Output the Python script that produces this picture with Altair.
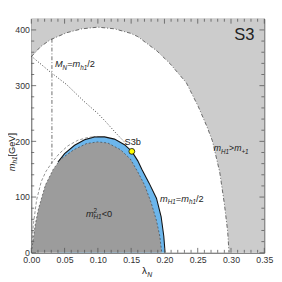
import altair as alt
import pandas as pd

FONT = "Liberation Sans"
TXT = "#222222"

# boundary of the light-gray excluded region (m_H1 > m_+1)
outer_lam = [0.0, 0.014, 0.028, 0.053, 0.076, 0.10, 0.125, 0.149, 0.16, 0.189, 0.208, 0.233, 0.251, 0.264, 0.272, 0.283, 0.29, 0.295, 0.297]
outer_m = [352, 370, 382, 395, 402, 405, 402, 394, 388, 362, 340, 305, 262, 226, 201, 145, 88, 38, 0]

# boundary of m^2_H1 < 0 region (dark gray)
neg_lam = [0.0, 0.006, 0.011, 0.021, 0.033, 0.044, 0.064, 0.083, 0.10, 0.115, 0.134, 0.149, 0.16, 0.17, 0.18, 0.188, 0.193, 0.196]
neg_m = [0, 51, 80, 121, 150, 168, 185, 196, 199, 197, 185, 168, 145, 122, 90, 58, 30, 0]

# outer edge of the blue band (m_H1 = m_h1/2)
band_lam = [0.04, 0.05, 0.065, 0.08, 0.095, 0.11, 0.125, 0.14, 0.151, 0.16, 0.166, 0.177, 0.188, 0.195, 0.199, 0.201]
band_m = [163, 178, 193, 203, 208, 208, 204, 194, 182, 165, 150, 125, 98, 65, 30, 0]

# dashed curve
dash_lam = [0.0, 0.003, 0.008, 0.015, 0.022, 0.031, 0.042, 0.055, 0.07, 0.085, 0.10]
dash_m = [0, 50, 95, 128, 146, 162, 178, 192, 202, 207, 209]

# dotted curve
dot_lam = [0.0, 0.028, 0.053, 0.079, 0.10, 0.112, 0.127, 0.143]
dot_m = [353, 325, 302, 272, 250, 235, 215, 195]

# vertical M_N = m_h1/2 line
vert_lam = [0.031, 0.031]
vert_m = [384, 160]

# benchmark point S3b
pt_lam = [0.151]
pt_m = [182]

x_major = [0.0, 0.05, 0.10, 0.15, 0.20, 0.25, 0.30, 0.35]
x_minor = [0.01, 0.02, 0.03, 0.04, 0.06, 0.07, 0.08, 0.09, 0.11, 0.12, 0.13, 0.14,
           0.16, 0.17, 0.18, 0.19, 0.21, 0.22, 0.23, 0.24, 0.26, 0.27, 0.28, 0.29,
           0.31, 0.32, 0.33, 0.34]
y_major = [0, 100, 200, 300, 400]
y_minor = [20, 40, 60, 80, 120, 140, 160, 180, 220, 240, 260, 280, 320, 340, 360, 380]
Y_TOP = 420

W_PX, H_PX = 240, 241

xs = alt.Scale(domain=[0, 0.35], nice=False, zero=False)
ys = alt.Scale(domain=[0, Y_TOP], nice=False, zero=False)
xaxis = alt.Axis(values=x_major, format=".2f", ticks=False, domain=False, grid=False,
                 labelFontSize=9, labelFont=FONT, labelColor="#333333", labelPadding=3,
                 labelFlush=False, labelOverlap=False)
yaxis = alt.Axis(values=y_major, format="d", ticks=False, domain=False, grid=False,
                 labelFontSize=9, labelFont=FONT, labelColor="#333333", labelPadding=2,
                 labelFlush=False, labelOverlap=False)
X = alt.X("lam:Q", scale=xs, axis=xaxis, title=None)
Y = alt.Y("m:Q", scale=ys, axis=yaxis, title=None)


def df(l, m):
    return pd.DataFrame({"lam": l, "m": m})


outer_area_df = df(outer_lam + [0.35], outer_m + [0])

layers = []
layers.append(alt.Chart(outer_area_df).mark_area(color="#cccccc", clip=True).encode(
    x=X, y=Y, y2=alt.datum(Y_TOP)))
layers.append(alt.Chart(df(outer_lam, outer_m)).mark_line(
    color="#444444", strokeWidth=0.8, strokeDash=[4, 2, 1, 2], clip=True).encode(x=X, y=Y))
layers.append(alt.Chart(df(band_lam, band_m)).mark_area(color="#6cb6ec", clip=True).encode(
    x=X, y=Y, y2=alt.datum(0)))
layers.append(alt.Chart(df(neg_lam, neg_m)).mark_area(color="#9c9c9c", clip=True).encode(
    x=X, y=Y, y2=alt.datum(0)))
layers.append(alt.Chart(df(neg_lam, neg_m)).mark_line(
    color="#333333", strokeWidth=0.6, strokeDash=[2, 2], clip=True).encode(x=X, y=Y))
layers.append(alt.Chart(df(band_lam, band_m)).mark_line(
    color="#111111", strokeWidth=1.1, clip=True).encode(x=X, y=Y))
layers.append(alt.Chart(df(dash_lam, dash_m)).mark_line(
    color="#777777", strokeWidth=0.8, strokeDash=[3, 2], clip=True).encode(x=X, y=Y))
layers.append(alt.Chart(df(vert_lam, vert_m)).mark_line(
    color="#444444", strokeWidth=0.8, strokeDash=[4, 2, 1, 2], clip=True).encode(x=X, y=Y))
layers.append(alt.Chart(df(dot_lam, dot_m)).mark_line(
    color="#333333", strokeWidth=1.0, strokeDash=[1, 2], clip=True).encode(x=X, y=Y))

# inward frame ticks
tick_col = "#555555"
xmaj = pd.DataFrame({"lam": x_major})
xmin = pd.DataFrame({"lam": x_minor})
ymaj = pd.DataFrame({"m": y_major})
ymin = pd.DataFrame({"m": y_minor})
for d, ln in ((xmaj, 5), (xmin, 3)):
    layers.append(alt.Chart(d).mark_rule(color=tick_col, strokeWidth=0.8).encode(
        x=X, y=alt.value(H_PX), y2=alt.value(H_PX - ln)))
    layers.append(alt.Chart(d).mark_rule(color=tick_col, strokeWidth=0.8).encode(
        x=X, y=alt.value(0), y2=alt.value(ln)))
for d, ln in ((ymaj, 5), (ymin, 3)):
    layers.append(alt.Chart(d).mark_rule(color=tick_col, strokeWidth=0.8).encode(
        y=Y, x=alt.value(0), x2=alt.value(ln)))
    layers.append(alt.Chart(d).mark_rule(color=tick_col, strokeWidth=0.8).encode(
        y=Y, x=alt.value(W_PX), x2=alt.value(W_PX - ln)))

layers.append(alt.Chart(df(pt_lam, pt_m)).mark_point(
    filled=True, fill="#ffff00", stroke="#000000", strokeWidth=0.8, size=36, opacity=1).encode(x=X, y=Y))

CW = {'M': .833, 'N': .722, 'm': .833, 'h': .556, '1': .556, '=': .584, '/': .278, '2': .556,
      '>': .584, '<': .584, '0': .556, '+': .584, 'H': .722, 'S': .667, '3': .556, 'b': .556,
      ' ': .278, '[': .278, ']': .278, 'G': .778, 'e': .556, 'V': .667, 'λ': .556}


def twidth(s, size):
    return sum(CW.get(c, .556) for c in s) * size


def rich(parts, lam=None, m=None, px=None, angle=0):
    out = []
    off = 0.0
    for p in parts:
        text, size, dy, ital = p[:4]
        adv = p[4] if len(p) > 4 else True
        mk = alt.Chart(pd.DataFrame({"lam": [lam if lam is not None else 0.0],
                                     "m": [m if m is not None else 0.0]})).mark_text(
            text=text, fontSize=size, dx=off, dy=dy, align="left", baseline="alphabetic",
            font=FONT, fontStyle="italic" if ital else "normal", color=TXT, angle=angle)
        if px is not None:
            out.append(mk.encode(x=alt.value(px[0]), y=alt.value(px[1])))
        else:
            out.append(mk.encode(x=X, y=Y))
        if adv:
            off += twidth(text, size)
    return out


layers += rich([("M", 9.5, 0, True), ("N", 6.5, 2.5, True), ("=", 9.5, 0, False),
                ("m", 9.5, 0, True), ("h1", 6.5, 2.5, True), ("/2", 9.5, 0, False)],
               lam=0.0355, m=333)
layers += rich([("m", 9, 0, True), ("H1", 6.5, 2.5, True), (">", 9, 0, False),
                ("m", 9, 0, True), ("+1", 6.5, 2.5, True)], lam=0.274, m=182)
layers += rich([("m", 9.5, 0, True), ("H1", 6.5, 2.5, True), ("=", 9.5, 0, False),
                ("m", 9.5, 0, True), ("h1", 6.5, 2.5, True), ("/2", 9.5, 0, False)],
               lam=0.1935, m=92)
layers += rich([("m", 9.5, 0, True), ("2", 6.5, -4, False, False), ("H1", 6.5, 2.5, True),
                ("<0", 9.5, 0, False)], lam=0.082, m=65)
layers += rich([("S3b", 9.5, 0, False)], lam=0.140, m=193)
layers += rich([("S3", 17, 0, False)], lam=0.305, m=382)
# axis titles
layers += rich([("λ", 10, 0, False), ("N", 7, 2.5, True)], px=(114, 263))
layers += rich([("m", 9.5, 0, True), ("h1", 6.5, 2.5, True), (" [GeV]", 9.5, 0, False)],
               px=(-17, 157), angle=270)

chart = alt.layer(*layers).properties(
    width=W_PX, height=H_PX,
    autosize=alt.AutoSizeParams(type="none"),
    padding={"left": 24, "top": 7, "right": 10, "bottom": 26},
).configure_view(stroke="#555555", strokeWidth=1)

chart.save("out.html", embed_options={"renderer": "svg", "actions": False})
